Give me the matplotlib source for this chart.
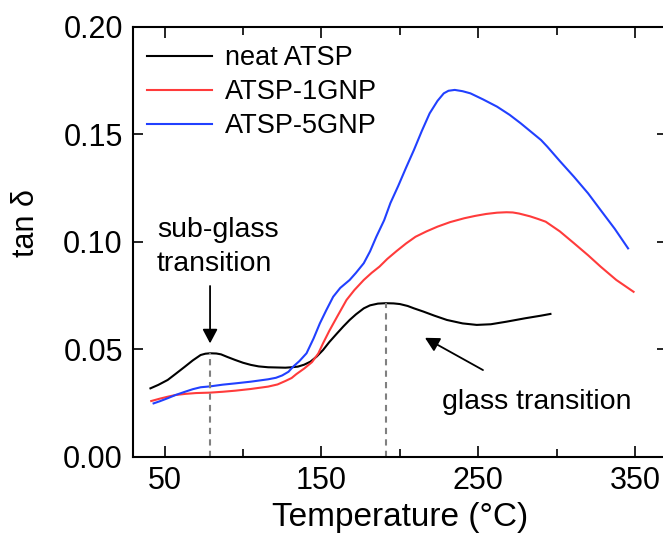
import numpy as np
import matplotlib
matplotlib.use('Agg')
import matplotlib.pyplot as plt

plt.rcParams['font.family'] = ['Liberation Sans', 'DejaVu Sans']

# neat ATSP
temp_neat = [41, 46, 52, 57, 63, 68, 73, 76, 79, 83, 86, 90, 95, 100, 105, 110, 116,
             127, 131, 135, 139, 143, 147, 151, 155, 160, 164, 168, 172, 177, 181, 186,
             191, 196, 200, 205, 209, 215, 222, 230, 240, 249, 258, 268, 280, 290, 296]
tan_neat = [0.0318, 0.0334, 0.0357, 0.0385, 0.0419, 0.0448, 0.0473, 0.0479, 0.0481,
            0.0480, 0.0476, 0.0464, 0.0450, 0.0437, 0.0427, 0.0420, 0.0416, 0.0414,
            0.0416, 0.0419, 0.0428, 0.0442, 0.0466, 0.0496, 0.0533, 0.0574, 0.0606,
            0.0636, 0.0662, 0.0690, 0.0704, 0.0712, 0.0714, 0.0713, 0.0710, 0.0701,
            0.0690, 0.0675, 0.0656, 0.0636, 0.0620, 0.0613, 0.0616, 0.0628, 0.0644,
            0.0656, 0.0664]

# ATSP-1GNP
temp_1gnp = [41.5, 47, 52, 57, 63, 70, 79, 87, 95, 105, 116, 122, 127, 131, 134, 139,
             144, 148, 151, 155, 160, 166, 171, 177, 182, 187, 192, 198, 204, 210, 217,
             224, 232, 241, 248, 255, 262, 268, 272, 276, 283, 288, 293, 302, 311, 320,
             328, 338, 349]
tan_1gnp = [0.0259, 0.0270, 0.0279, 0.0287, 0.0292, 0.0296, 0.0298, 0.0302, 0.0307,
            0.0315, 0.0326, 0.0336, 0.0352, 0.0366, 0.0384, 0.0410, 0.0440, 0.0480,
            0.0527, 0.0585, 0.0651, 0.0729, 0.0775, 0.0822, 0.0855, 0.0884, 0.0920,
            0.0957, 0.0992, 0.1023, 0.1048, 0.1070, 0.1091, 0.1109, 0.1120, 0.1129,
            0.1135, 0.1137, 0.1136, 0.1131, 0.1118, 0.1106, 0.1093, 0.1048, 0.0993,
            0.0937, 0.0884, 0.0822, 0.0767]

# ATSP-5GNP
temp_5gnp = [43, 47, 52, 57, 63, 68, 73, 79, 87, 95, 105, 116, 121, 125, 129, 132,
             136, 140.5, 145, 149, 153, 157.5, 162, 168, 172, 177, 181, 185, 190, 194,
             199, 204, 209, 214, 219, 224, 228, 231, 235, 240, 245, 253, 262, 270, 277,
             290, 294, 302, 311, 320, 328, 337, 345.5]
tan_5gnp = [0.0248, 0.0258, 0.0272, 0.0287, 0.0302, 0.0314, 0.0323, 0.0327, 0.0335,
            0.0341, 0.0349, 0.0360, 0.0367, 0.0378, 0.0395, 0.0419, 0.0445, 0.0481,
            0.0550, 0.0620, 0.0680, 0.0744, 0.0785, 0.0822, 0.0855, 0.0900, 0.0955,
            0.1023, 0.1100, 0.1180, 0.1260, 0.1345, 0.1427, 0.1515, 0.1597, 0.1655,
            0.1690, 0.1702, 0.1706, 0.1700, 0.1690, 0.1662, 0.1628, 0.1590, 0.1551,
            0.1473, 0.1442, 0.1375, 0.1302, 0.1225, 0.1147, 0.1060, 0.0969]

# transition temperatures (dashed markers)
t_subglass, tan_subglass = 79.2, 0.0481
t_glass, tan_glass = 191, 0.0714

fig = plt.figure(figsize=(6.63, 5.37), dpi=100)
ax = fig.add_axes([133.2 / 663, 80.3 / 537, 533.3 / 663, 430 / 537])

ax.plot(temp_neat, tan_neat, color='black', lw=1.5, label='neat ATSP')
ax.plot(temp_1gnp, tan_1gnp, color='#ff3b3b', lw=1.5, label='ATSP-1GNP')
ax.plot(temp_5gnp, tan_5gnp, color='#2140ff', lw=1.5, label='ATSP-5GNP')

ax.plot([t_subglass, t_subglass], [0, tan_subglass], color='#808080', lw=1.5,
        dashes=(3, 2.5))
ax.plot([t_glass, t_glass], [0, tan_glass], color='#808080', lw=1.5, dashes=(3, 2.5))

# annotations
arrow = dict(arrowstyle='-|>,head_length=0.85,head_width=0.45',
             color='black', lw=1.3, shrinkA=0, shrinkB=0)
ax.text(45, 0.1022, 'sub-glass', fontsize=20.5, ha='left', va='baseline')
ax.text(45, 0.0862, 'transition', fontsize=20.5, ha='left', va='baseline')
ax.annotate('', xy=(79, 0.0527), xytext=(79, 0.0794), arrowprops=arrow)
ax.text(226.7, 0.0222, 'glass transition', fontsize=20.5, ha='left', va='baseline')
ax.annotate('', xy=(216, 0.0553), xytext=(253, 0.0403), arrowprops=arrow)

ax.set_xlim(30, 370)
ax.set_ylim(0, 0.2)
ax.set_xticks([50, 150, 250, 350])
ax.set_xticks([100, 200, 300], minor=True)
ax.set_yticks([0, 0.05, 0.10, 0.15, 0.20])
ax.set_yticklabels(['%.2f' % v for v in [0, 0.05, 0.10, 0.15, 0.20]])

ax.tick_params(axis='both', which='both', direction='in', top=True, right=True,
               width=1.2, labelsize=22)
ax.tick_params(axis='x', which='major', length=8, pad=7)
ax.tick_params(axis='x', which='minor', length=6)
ax.tick_params(axis='y', which='major', length=7, pad=7.5)
for s in ax.spines.values():
    s.set_linewidth(1.5)

ax.set_xlabel('Temperature (\u00b0C)', fontsize=24)
ax.set_ylabel('tan \u03b4', fontsize=22)
ax.xaxis.set_label_coords(0.5, -0.105)
ax.yaxis.set_label_coords(-0.172, 0.543)

ax.legend(loc='upper left', bbox_to_anchor=(0.0255, 0.957), frameon=False,
          fontsize=19.5, handlelength=2.4, handletextpad=0.5, labelspacing=0.3,
          borderaxespad=0, borderpad=0)

fig.savefig('out.png', dpi=100)
